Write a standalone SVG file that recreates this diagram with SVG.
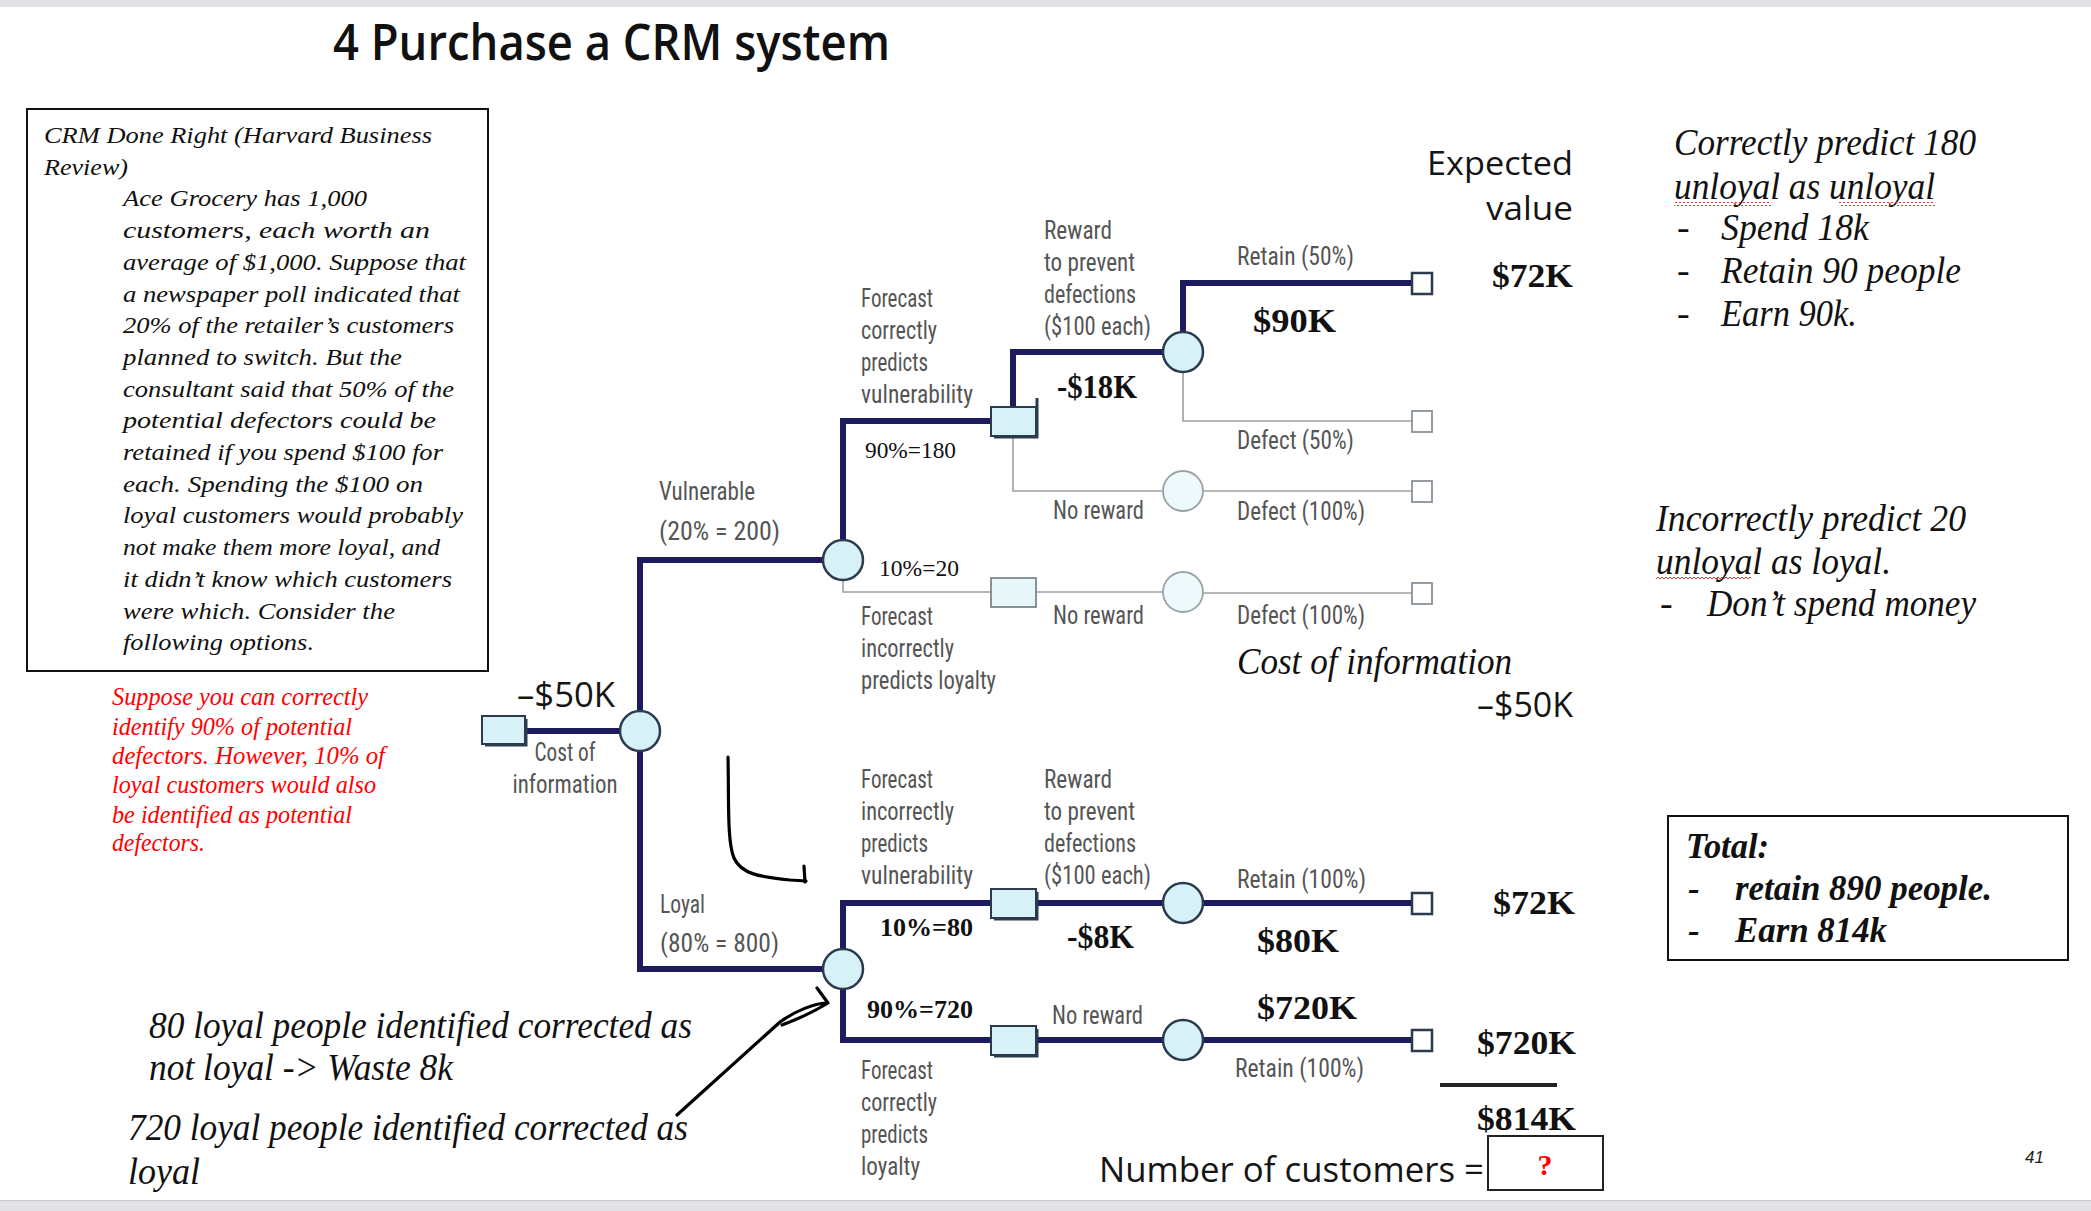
<svg xmlns="http://www.w3.org/2000/svg" width="2091" height="1211" viewBox="0 0 2091 1211">
<defs>
<style>
.bg{fill:#ffffff}
.bar{fill:#e2e1e5}
.title{font-family:"Open Sans","Liberation Sans",sans-serif;font-weight:600;font-size:50px;fill:#111}
.box{fill:none;stroke:#111;stroke-width:2}
.bt{font-family:"Liberation Serif","Times New Roman",serif;font-style:italic;font-size:23px;fill:#111}
.red{font-family:"Liberation Serif","Times New Roman",serif;font-style:italic;font-size:26px;fill:#ff0000}
.note{font-family:"Liberation Serif","Times New Roman",serif;font-style:italic;font-size:38px;fill:#111}
.tot{font-family:"Liberation Serif","Times New Roman",serif;font-style:italic;font-weight:bold;font-size:35px;fill:#111}
.lab{font-family:"Roboto Condensed","Liberation Sans Narrow","DejaVu Sans Condensed",Roboto,sans-serif;font-stretch:condensed;font-size:25px;fill:#555}
.val{font-family:"Liberation Serif","Times New Roman",serif;font-weight:bold;font-size:33px;fill:#111}
.pct{font-family:"Liberation Serif","Times New Roman",serif;font-size:23px;fill:#111}
.pctb{font-family:"Liberation Serif","Times New Roman",serif;font-weight:bold;font-size:25px;fill:#111}
.sans{font-family:"Open Sans","Liberation Sans",sans-serif;font-size:35px;fill:#151515}
.ev{font-family:"Open Sans","Liberation Sans",sans-serif;font-size:32px;fill:#151515}
.thick{fill:none;stroke:#1d1b5e;stroke-width:6}
.thin{fill:none;stroke:#a0a0a0;stroke-width:1.6}
.cn{fill:#d6f2f7;stroke:#2b3a4f;stroke-width:2.5}
.cg{fill:#eef9fb;stroke:#9aa2a8;stroke-width:1.8}
.dn{fill:#d6f2f7;stroke:#2b3a4f;stroke-width:2}
.dg{fill:#e6f6f9;stroke:#7d8790;stroke-width:1.8}
.sh{fill:none;stroke:#2b3a4f;stroke-width:3}
.tn{fill:#ffffff;stroke:#2b3a4f;stroke-width:2.5}
.tg{fill:#ffffff;stroke:#8a9299;stroke-width:1.8}
.hand{fill:none;stroke:#000;stroke-width:3.2;stroke-linecap:round;stroke-linejoin:round}
</style>
<pattern id="wavy" width="4" height="4" patternUnits="userSpaceOnUse">
<path d="M0 3 L2 1 L4 3" fill="none" stroke="#e02020" stroke-width="0.9"/>
</pattern>
</defs>
<rect class="bg" x="0" y="0" width="2091" height="1211"/>
<rect class="bar" x="0" y="0" width="2091" height="7"/>
<rect class="bar" x="0" y="1201" width="2091" height="10"/>
<line x1="0" y1="1200.5" x2="2091" y2="1200.5" stroke="#c9c9cc" stroke-width="1"/>

<g id="title"><text class="title" x="333" y="60" textLength="557" lengthAdjust="spacingAndGlyphs">4 Purchase a CRM system</text></g>

<g id="case-box">
<rect class="box" x="27" y="109" width="461" height="562"/>
<text class="bt" x="44" y="143" textLength="388" lengthAdjust="spacingAndGlyphs">CRM Done Right (Harvard Business</text>
<text class="bt" x="44" y="175" textLength="84" lengthAdjust="spacingAndGlyphs">Review)</text>
<text class="bt" x="123" y="206" textLength="244" lengthAdjust="spacingAndGlyphs">Ace Grocery has 1,000</text>
<text class="bt" x="123" y="238" textLength="307" lengthAdjust="spacingAndGlyphs">customers, each worth an</text>
<text class="bt" x="123" y="270" textLength="343" lengthAdjust="spacingAndGlyphs">average of $1,000. Suppose that</text>
<text class="bt" x="123" y="302" textLength="337" lengthAdjust="spacingAndGlyphs">a newspaper poll indicated that</text>
<text class="bt" x="123" y="333" textLength="331" lengthAdjust="spacingAndGlyphs">20% of the retailer’s customers</text>
<text class="bt" x="123" y="365" textLength="279" lengthAdjust="spacingAndGlyphs">planned to switch. But the</text>
<text class="bt" x="123" y="397" textLength="331" lengthAdjust="spacingAndGlyphs">consultant said that 50% of the</text>
<text class="bt" x="123" y="428" textLength="313" lengthAdjust="spacingAndGlyphs">potential defectors could be</text>
<text class="bt" x="123" y="460" textLength="320" lengthAdjust="spacingAndGlyphs">retained if you spend $100 for</text>
<text class="bt" x="123" y="492" textLength="300" lengthAdjust="spacingAndGlyphs">each. Spending the $100 on</text>
<text class="bt" x="123" y="523" textLength="340" lengthAdjust="spacingAndGlyphs">loyal customers would probably</text>
<text class="bt" x="123" y="555" textLength="317" lengthAdjust="spacingAndGlyphs">not make them more loyal, and</text>
<text class="bt" x="123" y="587" textLength="329" lengthAdjust="spacingAndGlyphs">it didn’t know which customers</text>
<text class="bt" x="123" y="619" textLength="272" lengthAdjust="spacingAndGlyphs">were which. Consider the</text>
<text class="bt" x="123" y="650" textLength="191" lengthAdjust="spacingAndGlyphs">following options.</text>
</g>

<g id="red-note">
<text class="red" x="112" y="705" textLength="256" lengthAdjust="spacingAndGlyphs">Suppose you can correctly</text>
<text class="red" x="112" y="735" textLength="240" lengthAdjust="spacingAndGlyphs">identify 90% of potential</text>
<text class="red" x="112" y="764" textLength="273" lengthAdjust="spacingAndGlyphs">defectors. However, 10% of</text>
<text class="red" x="112" y="793" textLength="264" lengthAdjust="spacingAndGlyphs">loyal customers would also</text>
<text class="red" x="112" y="823" textLength="240" lengthAdjust="spacingAndGlyphs">be identified as potential</text>
<text class="red" x="112" y="851" textLength="93" lengthAdjust="spacingAndGlyphs">defectors.</text>
</g>

<g id="connectors">
<line class="thick" x1="525" y1="731" x2="620" y2="731"/>
<polyline class="thick" points="640,711 640,560 823,560"/>
<polyline class="thick" points="640,751 640,969 823,969"/>
<polyline class="thick" points="843,540 843,421 991,421"/>
<polyline class="thin" points="843,580 843,592 991,592"/>
<polyline class="thick" points="1013,407 1013,352 1163,352"/>
<polyline class="thin" points="1013,436 1013,491 1163,491"/>
<polyline class="thick" points="1183,332 1183,283 1412,283"/>
<polyline class="thin" points="1183,372 1183,421 1412,421"/>
<line class="thin" x1="1203" y1="491" x2="1412" y2="491"/>
<line class="thin" x1="1036" y1="592" x2="1163" y2="592"/>
<line class="thin" x1="1203" y1="593" x2="1412" y2="593"/>
<polyline class="thick" points="843,949 843,903 991,903"/>
<line class="thick" x1="1036" y1="903" x2="1163" y2="903"/>
<line class="thick" x1="1203" y1="903" x2="1412" y2="903"/>
<polyline class="thick" points="843,989 843,1040 991,1040"/>
<line class="thick" x1="1036" y1="1040" x2="1163" y2="1040"/>
<line class="thick" x1="1203" y1="1040" x2="1412" y2="1040"/>
</g>

<g id="root-decision"><rect class="dn" x="482" y="716" width="43" height="28"/><path class="sh" d="M526 719 V745 H485"/></g>
<g id="chance-info"><circle class="cn" cx="640" cy="731" r="20"/></g>
<g id="chance-vulnerable"><circle class="cn" cx="843" cy="560" r="20"/></g>
<g id="chance-loyal"><circle class="cn" cx="843" cy="969" r="20"/></g>
<g id="decision-v-correct"><rect class="dn" x="991" y="407" width="45" height="29"/><path class="sh" d="M1037 398 V437 H994"/></g>
<g id="decision-v-incorrect"><rect class="dg" x="991" y="578" width="45" height="29"/></g>
<g id="chance-reward"><circle class="cn" cx="1183" cy="352" r="20"/></g>
<g id="chance-noreward1"><circle class="cg" cx="1183" cy="491" r="20"/></g>
<g id="chance-noreward2"><circle class="cg" cx="1183" cy="592" r="20"/></g>
<g id="decision-l-incorrect"><rect class="dn" x="991" y="889" width="45" height="29"/><path class="sh" d="M1037 892 V919 H994"/></g>
<g id="decision-l-correct"><rect class="dn" x="991" y="1026" width="45" height="29"/><path class="sh" d="M1037 1029 V1056 H994"/></g>
<g id="chance-l-reward"><circle class="cn" cx="1183" cy="903" r="20"/></g>
<g id="chance-l-noreward"><circle class="cn" cx="1183" cy="1040" r="20"/></g>
<g id="end-1"><rect class="tn" x="1412" y="273" width="20" height="21"/></g>
<g id="end-2"><rect class="tg" x="1412" y="411" width="20" height="21"/></g>
<g id="end-3"><rect class="tg" x="1412" y="481" width="20" height="21"/></g>
<g id="end-4"><rect class="tg" x="1412" y="583" width="20" height="21"/></g>
<g id="end-5"><rect class="tn" x="1412" y="893" width="20" height="21"/></g>
<g id="end-6"><rect class="tn" x="1412" y="1030" width="20" height="21"/></g>

<g id="tree-labels">
<text class="sans" x="517" y="707" textLength="98" lengthAdjust="spacingAndGlyphs">–$50K</text>
<text class="lab" x="565" y="761" text-anchor="middle" textLength="61" lengthAdjust="spacingAndGlyphs">Cost of</text>
<text class="lab" x="565" y="793" text-anchor="middle" textLength="105" lengthAdjust="spacingAndGlyphs">information</text>
<text class="lab" x="659" y="500" textLength="96" lengthAdjust="spacingAndGlyphs">Vulnerable</text>
<text class="lab" x="659" y="540" textLength="121" lengthAdjust="spacingAndGlyphs">(20% = 200)</text>
<text class="lab" x="660" y="913" textLength="45" lengthAdjust="spacingAndGlyphs">Loyal</text>
<text class="lab" x="660" y="952" textLength="119" lengthAdjust="spacingAndGlyphs">(80% = 800)</text>

<text class="lab" x="861" y="307" textLength="72" lengthAdjust="spacingAndGlyphs">Forecast</text>
<text class="lab" x="861" y="339" textLength="76" lengthAdjust="spacingAndGlyphs">correctly</text>
<text class="lab" x="861" y="371" textLength="67" lengthAdjust="spacingAndGlyphs">predicts</text>
<text class="lab" x="861" y="403" textLength="112" lengthAdjust="spacingAndGlyphs">vulnerability</text>
<text class="pct" x="865" y="458" textLength="91" lengthAdjust="spacingAndGlyphs">90%=180</text>
<text class="pct" x="879" y="576" textLength="80" lengthAdjust="spacingAndGlyphs">10%=20</text>
<text class="lab" x="861" y="625" textLength="72" lengthAdjust="spacingAndGlyphs">Forecast</text>
<text class="lab" x="861" y="657" textLength="93" lengthAdjust="spacingAndGlyphs">incorrectly</text>
<text class="lab" x="861" y="689" textLength="135" lengthAdjust="spacingAndGlyphs">predicts loyalty</text>

<text class="lab" x="1044" y="239" textLength="68" lengthAdjust="spacingAndGlyphs">Reward</text>
<text class="lab" x="1044" y="271" textLength="91" lengthAdjust="spacingAndGlyphs">to prevent</text>
<text class="lab" x="1044" y="303" textLength="92" lengthAdjust="spacingAndGlyphs">defections</text>
<text class="lab" x="1044" y="335" textLength="107" lengthAdjust="spacingAndGlyphs">($100 each)</text>
<text class="val" x="1057" y="398" textLength="80" lengthAdjust="spacingAndGlyphs">-$18K</text>
<text class="lab" x="1053" y="519" textLength="91" lengthAdjust="spacingAndGlyphs">No reward</text>
<text class="lab" x="1053" y="624" textLength="91" lengthAdjust="spacingAndGlyphs">No reward</text>

<text class="lab" x="1237" y="265" textLength="117" lengthAdjust="spacingAndGlyphs">Retain (50%)</text>
<text class="val" x="1253" y="332" textLength="83" lengthAdjust="spacingAndGlyphs">$90K</text>
<text class="lab" x="1237" y="449" textLength="117" lengthAdjust="spacingAndGlyphs">Defect (50%)</text>
<text class="lab" x="1237" y="520" textLength="128" lengthAdjust="spacingAndGlyphs">Defect (100%)</text>
<text class="lab" x="1237" y="624" textLength="128" lengthAdjust="spacingAndGlyphs">Defect (100%)</text>

<text class="ev" x="1573" y="175" text-anchor="end" textLength="146" lengthAdjust="spacingAndGlyphs">Expected</text>
<text class="ev" x="1573" y="220" text-anchor="end" textLength="87" lengthAdjust="spacingAndGlyphs">value</text>
<text class="val" x="1492" y="287" textLength="81" lengthAdjust="spacingAndGlyphs">$72K</text>
<text class="note" x="1237" y="674" textLength="275" lengthAdjust="spacingAndGlyphs">Cost of information</text>
<text class="sans" x="1477" y="717" textLength="96" lengthAdjust="spacingAndGlyphs">–$50K</text>

<text class="lab" x="861" y="788" textLength="72" lengthAdjust="spacingAndGlyphs">Forecast</text>
<text class="lab" x="861" y="820" textLength="93" lengthAdjust="spacingAndGlyphs">incorrectly</text>
<text class="lab" x="861" y="852" textLength="67" lengthAdjust="spacingAndGlyphs">predicts</text>
<text class="lab" x="861" y="884" textLength="112" lengthAdjust="spacingAndGlyphs">vulnerability</text>
<text class="lab" x="1044" y="788" textLength="68" lengthAdjust="spacingAndGlyphs">Reward</text>
<text class="lab" x="1044" y="820" textLength="91" lengthAdjust="spacingAndGlyphs">to prevent</text>
<text class="lab" x="1044" y="852" textLength="92" lengthAdjust="spacingAndGlyphs">defections</text>
<text class="lab" x="1044" y="884" textLength="107" lengthAdjust="spacingAndGlyphs">($100 each)</text>
<text class="lab" x="1237" y="888" textLength="129" lengthAdjust="spacingAndGlyphs">Retain (100%)</text>
<text class="val" x="1493" y="914" textLength="82" lengthAdjust="spacingAndGlyphs">$72K</text>
<text class="pctb" x="880" y="936" textLength="93" lengthAdjust="spacingAndGlyphs">10%=80</text>
<text class="val" x="1067" y="948" textLength="67" lengthAdjust="spacingAndGlyphs">-$8K</text>
<text class="val" x="1257" y="952" textLength="82" lengthAdjust="spacingAndGlyphs">$80K</text>
<text class="pctb" x="867" y="1018" textLength="106" lengthAdjust="spacingAndGlyphs">90%=720</text>
<text class="lab" x="1052" y="1024" textLength="91" lengthAdjust="spacingAndGlyphs">No reward</text>
<text class="val" x="1257" y="1019" textLength="100" lengthAdjust="spacingAndGlyphs">$720K</text>
<text class="val" x="1477" y="1054" textLength="99" lengthAdjust="spacingAndGlyphs">$720K</text>
<text class="lab" x="1235" y="1077" textLength="129" lengthAdjust="spacingAndGlyphs">Retain (100%)</text>
<text class="lab" x="861" y="1079" textLength="72" lengthAdjust="spacingAndGlyphs">Forecast</text>
<text class="lab" x="861" y="1111" textLength="76" lengthAdjust="spacingAndGlyphs">correctly</text>
<text class="lab" x="861" y="1143" textLength="67" lengthAdjust="spacingAndGlyphs">predicts</text>
<text class="lab" x="861" y="1175" textLength="59" lengthAdjust="spacingAndGlyphs">loyalty</text>
<line x1="1440" y1="1085" x2="1557" y2="1085" stroke="#222" stroke-width="4"/>
<text class="val" x="1477" y="1130" textLength="99" lengthAdjust="spacingAndGlyphs">$814K</text>
<text class="sans" x="1099" y="1182" textLength="385" lengthAdjust="spacingAndGlyphs">Number of customers =</text>
<rect x="1488" y="1136" width="115" height="54" fill="#fff" stroke="#222" stroke-width="2"/>
<text x="1545" y="1175" text-anchor="middle" font-family="Liberation Serif, serif" font-weight="bold" font-size="30" fill="#ff0000">?</text>
</g>

<g id="right-notes">
<text class="note" x="1674" y="155" textLength="302" lengthAdjust="spacingAndGlyphs">Correctly predict 180</text>
<text class="note" x="1674" y="199" textLength="261" lengthAdjust="spacingAndGlyphs">unloyal as unloyal</text>
<rect x="1674" y="202" width="97" height="4" fill="url(#wavy)"/>
<rect x="1839" y="202" width="96" height="4" fill="url(#wavy)"/>
<text class="note" x="1677" y="240">-</text>
<text class="note" x="1721" y="240" textLength="148" lengthAdjust="spacingAndGlyphs">Spend 18k</text>
<text class="note" x="1677" y="283">-</text>
<text class="note" x="1721" y="283" textLength="240" lengthAdjust="spacingAndGlyphs">Retain 90 people</text>
<text class="note" x="1677" y="326">-</text>
<text class="note" x="1721" y="326" textLength="136" lengthAdjust="spacingAndGlyphs">Earn 90k.</text>
<text class="note" x="1656" y="531" textLength="310" lengthAdjust="spacingAndGlyphs">Incorrectly predict 20</text>
<text class="note" x="1656" y="574" textLength="235" lengthAdjust="spacingAndGlyphs">unloyal as loyal.</text>
<rect x="1656" y="577" width="95" height="4" fill="url(#wavy)"/>
<text class="note" x="1660" y="616">-</text>
<text class="note" x="1707" y="616" textLength="269" lengthAdjust="spacingAndGlyphs">Don’t spend money</text>
</g>

<g id="total-box">
<rect class="box" x="1668" y="816" width="400" height="144"/>
<text class="tot" x="1686" y="858" textLength="83" lengthAdjust="spacingAndGlyphs">Total:</text>
<text class="tot" x="1688" y="900">-</text>
<text class="tot" x="1735" y="900" textLength="257" lengthAdjust="spacingAndGlyphs">retain 890 people.</text>
<text class="tot" x="1688" y="942">-</text>
<text class="tot" x="1735" y="942" textLength="152" lengthAdjust="spacingAndGlyphs">Earn 814k</text>
</g>

<g id="bottom-notes">
<text class="note" x="149" y="1038" textLength="543" lengthAdjust="spacingAndGlyphs">80 loyal people identified corrected as</text>
<text class="note" x="149" y="1080" textLength="304" lengthAdjust="spacingAndGlyphs">not loyal -&gt; Waste 8k</text>
<text class="note" x="128" y="1140" textLength="560" lengthAdjust="spacingAndGlyphs">720 loyal people identified corrected as</text>
<text class="note" x="128" y="1184" textLength="72" lengthAdjust="spacingAndGlyphs">loyal</text>
</g>

<g id="hand-drawn">
<path class="hand" d="M728 757 C729 800 727 842 734 858 C741 874 760 877 790 880 L806 881"/>
<path class="hand" d="M804 866 L805 882"/>
<path class="hand" d="M677 1115 L780 1022 C795 1011 815 1003 828 1003 L817 988 M828 1003 C815 1011 798 1019 782 1025"/>
</g>

<g id="page-number"><text x="2025" y="1163" font-family="Liberation Sans Narrow, Liberation Sans, sans-serif" font-style="italic" font-size="17" fill="#222">41</text></g>
</svg>
